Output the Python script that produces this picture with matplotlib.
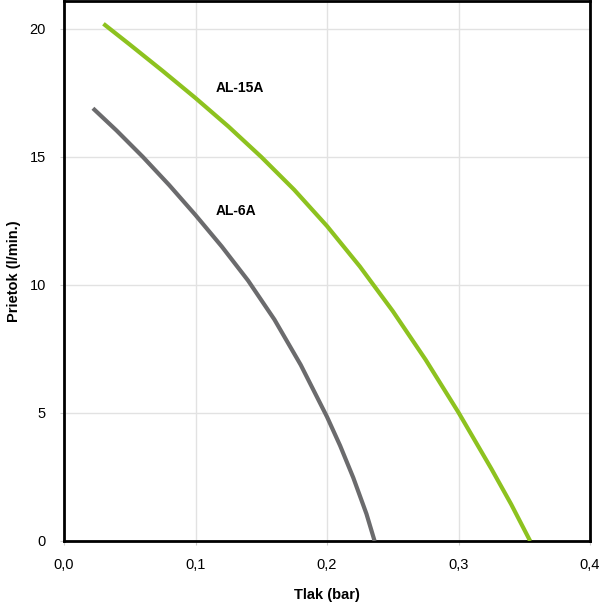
import matplotlib
matplotlib.use("Agg")
import matplotlib.pyplot as plt
from matplotlib.ticker import FuncFormatter

plt.rcParams['font.family'] = ['Liberation Sans', 'DejaVu Sans']

# AL-15A curve (pressure bar, flow l/min)
al15_x = [0.030, 0.050, 0.075, 0.100, 0.125, 0.150, 0.175, 0.200, 0.225,
          0.250, 0.275, 0.300, 0.325, 0.340, 0.3545]
al15_y = [20.2, 19.39, 18.36, 17.3, 16.19, 15.0, 13.72, 12.3, 10.72,
          8.98, 7.08, 5.02, 2.82, 1.44, 0.0]

# AL-6A curve
al6_x = [0.022, 0.040, 0.060, 0.080, 0.100, 0.120, 0.140, 0.160, 0.180,
         0.200, 0.210, 0.220, 0.230, 0.2362]
al6_y = [16.9, 16.03, 15.0, 13.9, 12.73, 11.5, 10.17, 8.65, 6.88,
         4.85, 3.72, 2.47, 1.06, 0.0]

x_ticks = [0.0, 0.1, 0.2, 0.3, 0.4]
y_ticks = [0, 5, 10, 15, 20]

fig = plt.figure(figsize=(6.0, 6.03), dpi=100)
ax = fig.add_axes([64/600, 62/603, 526/600, 540/603])

ax.plot(al15_x, al15_y, color='#8DC21F', lw=3.0, solid_capstyle='butt',
        solid_joinstyle='round', zorder=3)
ax.plot(al6_x, al6_y, color='#6B6B6D', lw=3.0, solid_capstyle='butt',
        solid_joinstyle='round', zorder=3)

ax.text(0.115, 17.7, 'AL-15A', fontsize=10, fontweight='bold', va='center', ha='left')
ax.text(0.115, 12.9, 'AL-6A', fontsize=10, fontweight='bold', va='center', ha='left')

ax.set_xlim(0, 0.4)
ax.set_ylim(0, 21.09)
ax.set_xticks(x_ticks)
ax.set_yticks(y_ticks)
ax.xaxis.set_major_formatter(FuncFormatter(lambda v, p: f"{v:.1f}".replace('.', ',')))
ax.grid(True, color='#e2e2e2', lw=1.0, zorder=0)
ax.tick_params(axis='both', length=3, color='#cccccc', labelsize=10.5, colors='#000000')
ax.tick_params(axis='x', pad=9)
ax.tick_params(axis='y', pad=10)
for s in ax.spines.values():
    s.set_linewidth(2.0)
    s.set_color('#000000')

ax.set_xlabel('Tlak (bar)', fontsize=10.5, fontweight='bold', labelpad=12)
ax.set_ylabel('Prietok (l/min.)', fontsize=10.5, fontweight='bold', labelpad=6)

fig.savefig('out.png', dpi=100)
